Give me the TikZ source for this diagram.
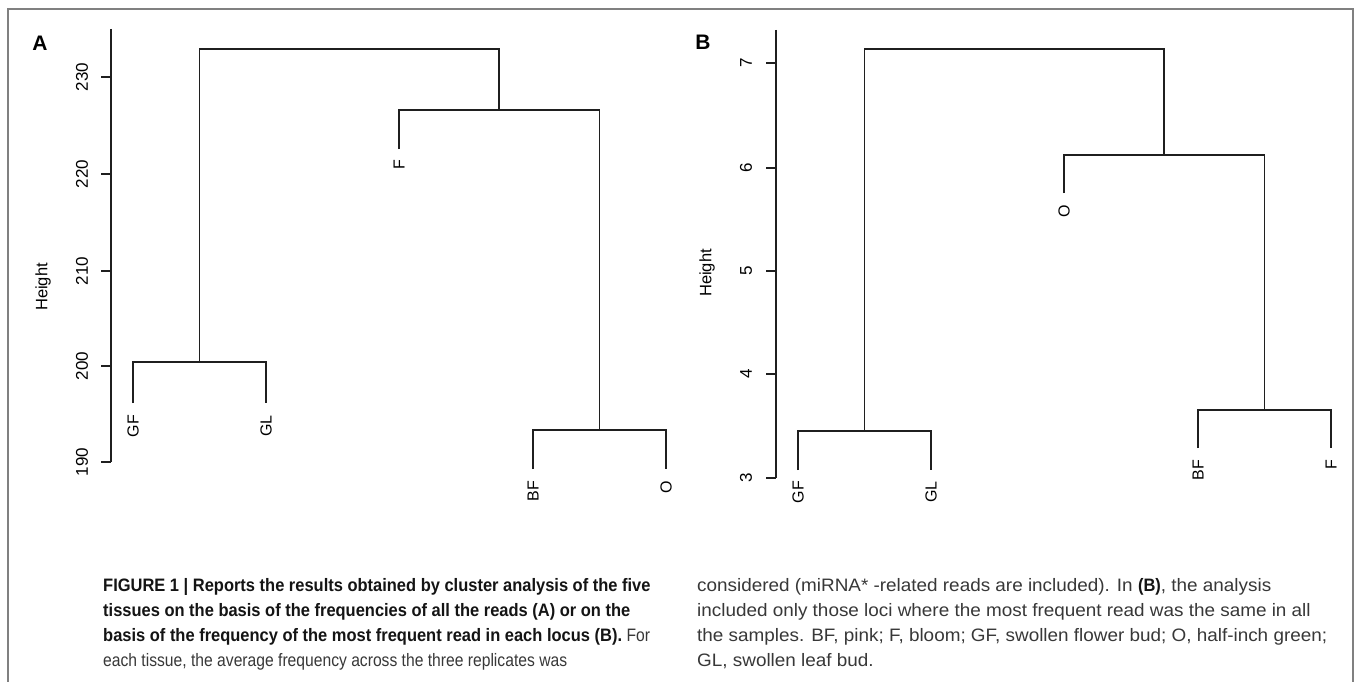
\documentclass[tikz,border=0pt]{standalone}
\usepackage{fontspec}
\setmainfont{Liberation Sans}
% caption faces: narrow bold title, body text in two widths (one per column)
\newfontfamily\capboldfont[FakeStretch=0.915]{Liberation Sans Bold}
\newfontfamily\capleftfont[FakeStretch=0.87]{Liberation Sans}
\newfontfamily\caprightfont[FakeStretch=1.05,BoldFont={Liberation Sans Bold},BoldFeatures={FakeStretch=0.915}]{Liberation Sans}
\begin{document}
\begin{tikzpicture}[x=1pt,y=-1pt,
  tree/.style={draw=black!88,line width=1.6pt},
  frameline/.style={draw=black!50,line width=1.6pt},
  tick/.style={draw=black!88,line width=1.6pt},
  ticklab/.style={rotate=90,inner sep=0pt,font=\fontsize{17}{17}\selectfont},
  leaflab/.style={rotate=90,anchor=east,inner sep=0pt,font=\fontsize{16}{16}\selectfont},
  ylab/.style={rotate=90,inner sep=0pt,font=\fontsize{16.5}{16.5}\selectfont},
  panel/.style={inner sep=0pt,font=\fontsize{21}{21}\selectfont\bfseries},
  capbold/.style={anchor=base west,inner sep=0pt,text=black!92,
    font=\capboldfont\fontsize{18}{18}\selectfont},
  capleft/.style={anchor=base west,inner sep=0pt,text=black!78,
    font=\capleftfont\fontsize{18}{18}\selectfont},
  capright/.style={anchor=base west,inner sep=0pt,text=black!78,
    font=\caprightfont\fontsize{18}{18}\selectfont}]
\useasboundingbox (0,0) rectangle (1354,682);
\fill[white] (0,0) rectangle (1354,682);

% outer frame, open at the bottom
\draw[frameline] (8,682) -- (8,9) -- (1353,9) -- (1353,682);

% ---------------- panel A ----------------
\node[panel] (pA) at (40,43) {A};
\draw[tick] (111,29) -- (111,462);
\foreach \v/\y in {230/77,220/174,210/271,200/366,190/462}{
  \draw[tick] (101,\y) -- (111,\y);
  \node[ticklab] at (82,\y) {\v};
}
\node[ylab] (hA) at (43,287) {Height};

\coordinate (aGF) at (133,403);
\coordinate (aGL) at (266,403);
\coordinate (aF)  at (399,149);
\coordinate (aBF) at (533,469);
\coordinate (aO)  at (666,469);
\coordinate (am1) at (199.5,362);
\coordinate (am2) at (599.5,430);
\coordinate (am3) at (499,110);
\coordinate (am4) at (349,49);

\draw[tree] (aGF) |- (am1) -| (aGL);
\draw[tree] (aBF) |- (am2) -| (aO);
\draw[tree] (aF) |- (am3) -| (am2);
\draw[tree] (am1) |- (am4) -| (am3);

\node[leaflab] (lAGF) at (133,415) {GF};
\node[leaflab] (lAGL) at (266,415) {GL};
\node[leaflab] (lAF)  at (399,160) {F};
\node[leaflab] (lABF) at (533,481) {BF};
\node[leaflab] (lAO)  at (666,481) {O};

% ---------------- panel B ----------------
\node[panel] (pB) at (703,42) {B};
\draw[tick] (776,30) -- (776,478);
\foreach \v/\y in {7/63,6/168,5/271,4/374,3/478}{
  \draw[tick] (766,\y) -- (776,\y);
  \node[ticklab] at (746,\y) {\v};
}
\node[ylab] (hB) at (707,273) {Height};

\coordinate (bGF) at (798,470);
\coordinate (bGL) at (931,470);
\coordinate (bO)  at (1064,193);
\coordinate (bBF) at (1198,448);
\coordinate (bF)  at (1331,448);
\coordinate (bm1) at (864.5,431);
\coordinate (bm2) at (1264.5,410);
\coordinate (bm3) at (1164,155);
\coordinate (bm4) at (1014,49);

\draw[tree] (bGF) |- (bm1) -| (bGL);
\draw[tree] (bBF) |- (bm2) -| (bF);
\draw[tree] (bO) |- (bm3) -| (bm2);
\draw[tree] (bm1) |- (bm4) -| (bm3);

\node[leaflab] (lBGF) at (798,481) {GF};
\node[leaflab] (lBGL) at (931,481) {GL};
\node[leaflab] (lBO)  at (1064,205) {O};
\node[leaflab] (lBBF) at (1198,460) {BF};
\node[leaflab] (lBF)  at (1331,460) {F};

% ---------------- caption ----------------
\node[capbold] (c1) at (103,591) {FIGURE 1 | Reports the results obtained by cluster analysis of the five};
\node[capbold] (c2) at (103,616) {tissues on the basis of the frequencies of all the reads (A) or on the};
\node[capbold] (c3) at (103,641) {basis of the frequency of the most frequent read in each locus (B).\ {\capleftfont\color{black!78}For}};
\node[capleft] (c4) at (103,666) {each tissue, the average frequency across the three replicates was};
\node[capright] (d1) at (697,591) {considered (miRNA* -related reads are included). In {\bfseries\color{black!92}(B)}, the analysis};
\node[capright] (d2) at (697,616) {included only those loci where the most frequent read was the same in all};
\node[capright] (d3) at (697,641) {the samples. BF, pink; F, bloom; GF, swollen flower bud; O, half-inch green;};
\node[capright] (d4) at (697,666) {GL, swollen leaf bud.};
\end{tikzpicture}
\end{document}
